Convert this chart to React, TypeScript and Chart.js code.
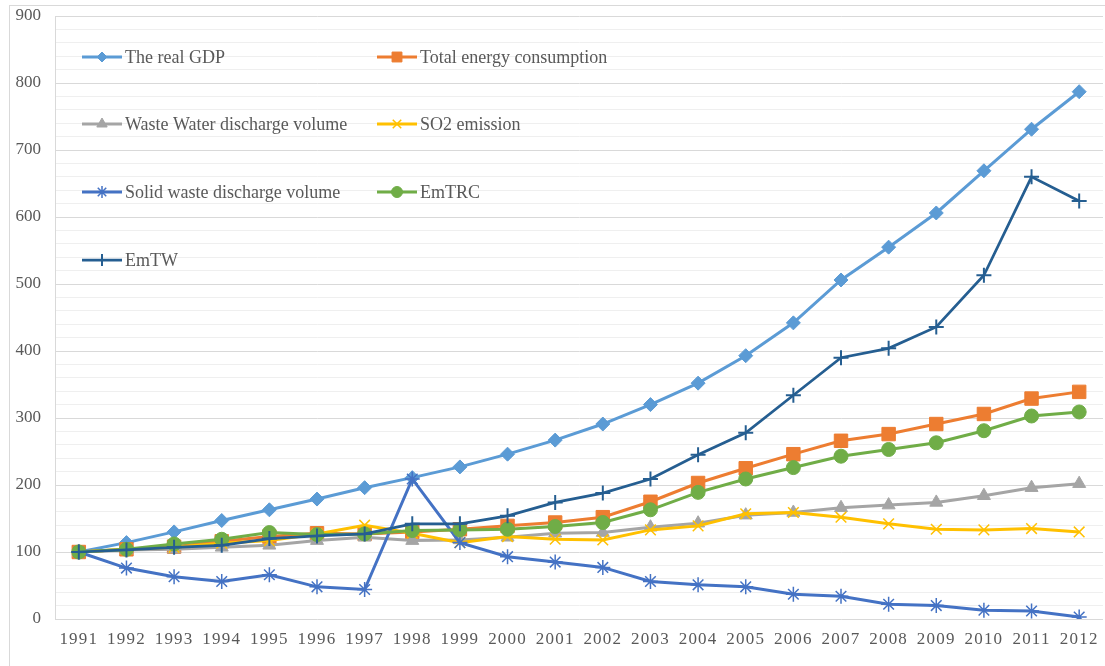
import React, { useEffect, useRef } from 'react';
import { Chart, registerables } from 'chart.js';
import { drawPoint } from 'chart.js/helpers';

Chart.register(...registerables);

const years = ['1991','1992','1993','1994','1995','1996','1997','1998','1999','2000','2001','2002','2003','2004','2005','2006','2007','2008','2009','2010','2011','2012'];

const realGDP = [100, 114, 130, 147, 163, 179, 196, 211, 227, 246, 267, 291, 320, 352, 393, 442, 506, 555, 606, 669, 731, 787];
const totalEnergy = [100, 104, 108, 116, 123, 128, 127, 130, 134, 139, 144, 152, 175, 203, 225, 246, 266, 276, 291, 306, 329, 339];
const wasteWater = [100, 103, 104, 107, 110, 117, 122, 117, 118, 122, 128, 129, 137, 143, 155, 159, 166, 170, 174, 184, 196, 202];
const so2Emission = [100, 104, 107, 113, 117, 127, 140, 128, 114, 123, 119, 118, 133, 139, 157, 159, 152, 142, 134, 133, 135, 130];
const solidWaste = [100, 76, 63, 56, 66, 48, 44, 209, 114, 93, 85, 77, 56, 51, 48, 37, 34, 22, 20, 13, 12, 3];
const emTRC = [100, 104, 112, 119, 129, 126, 127, 132, 133, 134, 138, 144, 163, 189, 209, 226, 243, 253, 263, 281, 303, 309];
const emTW = [100, 103, 107, 110, 120, 124, 127, 142, 142, 154, 174, 188, 209, 245, 278, 334, 390, 404, 436, 513, 660, 624];

const seriesNames = [
  'The real GDP',
  'Total energy consumption',
  'Waste Water discharge volume',
  'SO2 emission',
  'Solid waste discharge volume',
  'EmTRC',
  'EmTW',
];

const TEXT = '#595959';
const FONT = '"Liberation Serif", "Times New Roman", serif';

const insideLegend = {
  id: 'insideLegend',
  afterDraw(chart: any) {
    const ctx = chart.ctx;
    const cols = [82, 377];
    const rows = [57, 124, 192, 260];
    chart.data.datasets.forEach((ds: any, i: number) => {
      const x0 = cols[i % 2];
      const y = rows[Math.floor(i / 2)];
      ctx.save();
      ctx.strokeStyle = ds.borderColor;
      ctx.lineWidth = ds.borderWidth;
      ctx.lineCap = 'butt';
      ctx.beginPath();
      ctx.moveTo(x0, y);
      ctx.lineTo(x0 + 40, y);
      ctx.stroke();
      ctx.fillStyle = ds.pointBackgroundColor;
      ctx.strokeStyle = ds.pointBorderColor;
      ctx.lineWidth = ds.pointBorderWidth;
      drawPoint(ctx, { pointStyle: ds.pointStyle, radius: ds.legendRadius, rotation: 0, borderWidth: ds.pointBorderWidth }, x0 + 20, y);
      ctx.fillStyle = TEXT;
      ctx.font = `18px ${FONT}`;
      ctx.textBaseline = 'middle';
      ctx.textAlign = 'left';
      ctx.fillText(ds.label, x0 + 43, y + 1);
      ctx.restore();
    });
  },
};

const spacedXLabels = {
  id: 'spacedXLabels',
  afterUpdate(chart: any) {
    const sx = chart.scales.x;
    if (sx && !sx.__spaced) {
      const orig = sx.drawLabels.bind(sx);
      sx.drawLabels = (ca: any) => {
        const c = chart.ctx;
        c.save();
        c.letterSpacing = '1.2px';
        orig(ca);
        c.restore();
      };
      sx.__spaced = true;
    }
  },
};

function mk(i: number, data: number[], color: string, style: string, radius: number, legendRadius: number, bw: number, lineW: number) {
  return {
    label: seriesNames[i],
    data,
    borderColor: color,
    backgroundColor: color,
    borderWidth: lineW,
    pointStyle: style,
    pointRadius: radius,
    pointBackgroundColor: color,
    pointBorderColor: color,
    pointBorderWidth: bw,
    legendRadius,
    tension: 0,
    order: 10 - i,
  };
}

export default function App() {
  const ref = useRef<HTMLCanvasElement>(null);
  useEffect(() => {
    if (!ref.current) return;
    const chart = new Chart(ref.current, {
      type: 'line',
      data: {
        labels: years,
        datasets: [
          mk(0, realGDP, '#5B9BD5', 'rectRot', 7, 5, 1, 3),
          mk(1, totalEnergy, '#ED7D31', 'rect', 9.5, 7, 1, 3),
          mk(2, wasteWater, '#A5A5A5', 'triangle', 7.5, 6, 1, 3),
          mk(3, so2Emission, '#FFC000', 'crossRot', 7.5, 6, 1.5, 3),
          mk(4, solidWaste, '#4472C4', 'star', 7.5, 6, 1.5, 3),
          mk(5, emTRC, '#70AD47', 'circle', 7, 5.5, 1, 3),
          mk(6, emTW, '#255E91', 'cross', 7.5, 6, 2, 2.75),
        ] as any,
      },
      options: {
        animation: false,
        responsive: false,
        devicePixelRatio: 1,
        layout: { autoPadding: false, padding: { top: 16, right: 2, left: 0, bottom: 0 } },
        plugins: { legend: { display: false }, tooltip: { enabled: false } },
        scales: {
          x: {
            offset: true,
            grid: { display: false, drawTicks: false },
            border: { display: false },
            ticks: { color: TEXT, font: { family: FONT, size: 17 }, padding: 10, maxRotation: 0, autoSkip: false },
            afterFit: (s: any) => { s.height = 47; s.paddingLeft = 0; s.paddingRight = 0; },
          },
          y: {
            min: 0,
            max: 900,
            grid: {
              drawTicks: false,
              color: (c: any) => (c.tick && c.tick.value % 100 === 0 ? '#d9d9d9' : '#efefef'),
              lineWidth: 1,
            },
            border: { display: true, color: '#d9d9d9', width: 1 },
            ticks: {
              stepSize: 20,
              maxTicksLimit: 100,
              autoSkip: false,
              color: TEXT,
              font: { family: FONT, size: 17 },
              padding: 14,
              callback: (v: any) => (Number(v) % 100 === 0 ? String(v) : ''),
            },
            afterFit: (s: any) => { s.width = 55; s.paddingTop = 0; s.paddingBottom = 0; },
          },
        },
      },
      plugins: [insideLegend, spacedXLabels],
    });
    return () => chart.destroy();
  }, []);

  return (
    <div style={{ position: 'fixed', left: 0, top: 0, width: 1105, height: 666, background: '#fff', overflow: 'hidden' }}>
      <div style={{ position: 'absolute', left: 9, top: 5, width: 1200, height: 800, borderLeft: '1px solid #d9d9d9', borderTop: '1px solid #d9d9d9' }} />
      <canvas ref={ref} width={1105} height={666} style={{ position: 'absolute', left: 0, top: 0, width: 1105, height: 666 }} />
    </div>
  );
}
